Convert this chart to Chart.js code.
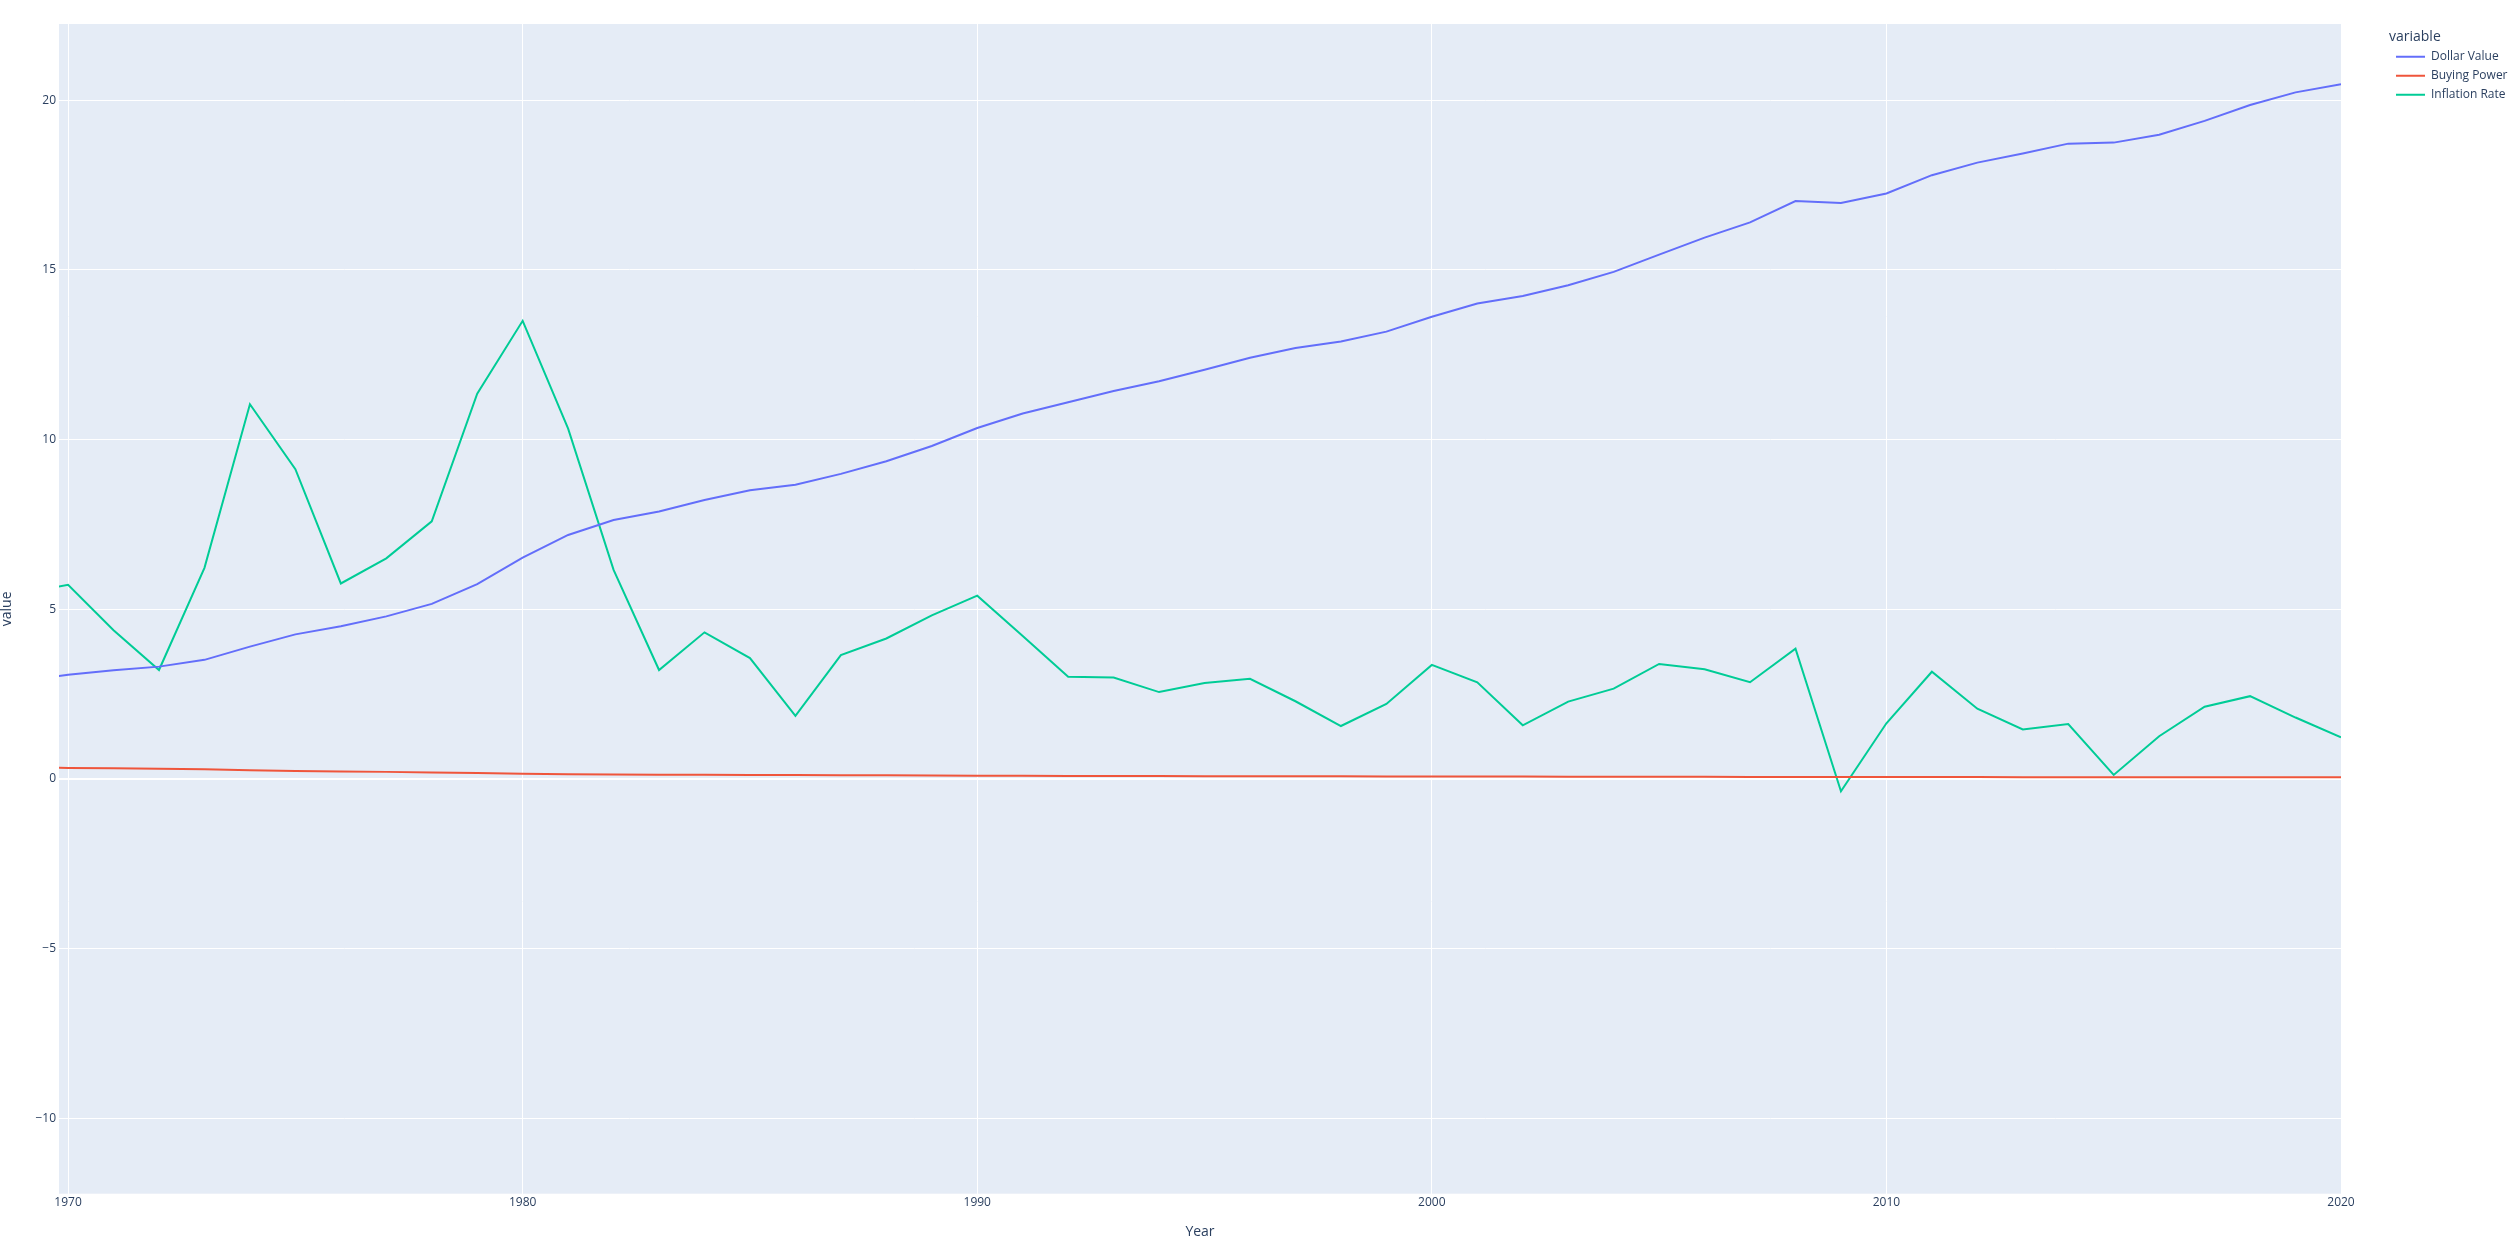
<!DOCTYPE html>
<html>
<head>
<meta charset="utf-8">
<script src="https://cdn.jsdelivr.net/npm/chart.js@4.4.1/dist/chart.umd.min.js"></script>
<style>
  html, body { margin: 0; padding: 0; background: #ffffff; }
  #wrap { width: 2509px; height: 1248px; position: relative; }
  canvas { display: block; }
</style>
</head>
<body>
<div id="wrap"><canvas id="c" width="2509" height="1248"></canvas></div>
<script>
// ---- data ----
const years = [1969,1970,1971,1972,1973,1974,1975,1976,1977,1978,1979,1980,1981,1982,1983,1984,1985,1986,1987,1988,1989,1990,1991,1992,1993,1994,1995,1996,1997,1998,1999,2000,2001,2002,2003,2004,2005,2006,2007,2008,2009,2010,2011,2012,2013,2014,2015,2016,2017,2018,2019,2020];

const dollarValue = [2.90,3.07,3.20,3.31,3.51,3.90,4.26,4.50,4.79,5.16,5.74,6.52,7.19,7.63,7.88,8.22,8.51,8.67,8.99,9.36,9.81,10.34,10.77,11.10,11.43,11.72,12.06,12.41,12.70,12.89,13.18,13.62,14.01,14.23,14.55,14.94,15.45,15.95,16.40,17.03,16.97,17.25,17.79,18.16,18.43,18.72,18.75,18.98,19.39,19.86,20.23,20.47];

const buyingPower = [0.345,0.326,0.313,0.302,0.285,0.256,0.235,0.222,0.209,0.194,0.174,0.153,0.139,0.131,0.127,0.122,0.118,0.115,0.111,0.107,0.102,0.097,0.093,0.090,0.087,0.085,0.083,0.081,0.079,0.078,0.076,0.073,0.071,0.070,0.069,0.067,0.065,0.063,0.061,0.059,0.059,0.058,0.056,0.055,0.054,0.053,0.053,0.053,0.052,0.050,0.049,0.049];

const inflationRate = [5.46,5.72,4.38,3.21,6.22,11.04,9.13,5.76,6.50,7.59,11.35,13.50,10.32,6.16,3.21,4.32,3.56,1.86,3.65,4.14,4.82,5.40,4.21,3.01,2.99,2.56,2.83,2.95,2.29,1.56,2.21,3.36,2.85,1.58,2.28,2.66,3.39,3.23,2.85,3.84,-0.36,1.64,3.16,2.07,1.46,1.62,0.12,1.26,2.13,2.44,1.81,1.23];

const seriesNames = ['Dollar Value','Buying Power','Inflation Rate'];
const xTickValues = [1970,1980,1990,2000,2010,2020];
const yTickValues = [-10,-5,0,5,10,15,20];

// ---- styling ----
const TEXT = '#2a3f5f';
const FONT = '"Open Sans", verdana, arial, sans-serif';
Chart.defaults.font.family = FONT;
Chart.defaults.color = TEXT;

function pts(vals) { return years.map((y, i) => ({ x: y, y: vals[i] })); }

const plotBg = {
  id: 'plotBg',
  beforeDraw(chart) {
    const { ctx, chartArea: a } = chart;
    ctx.save();
    ctx.fillStyle = '#ffffff';
    ctx.fillRect(0, 0, chart.width, chart.height);
    ctx.fillStyle = '#E5ECF6';
    ctx.fillRect(a.left, a.top, a.right - a.left, a.bottom - a.top);
    ctx.restore();
  }
};

const legendPlace = {
  id: 'legendPlace',
  afterInit(chart) {
    const L = chart.legend;
    if (!L) return;
    const orig = L.fit.bind(L);
    L.fit = function () { orig(); this.width = 168; };
  },
  afterLayout(chart) {
    const L = chart.legend;
    if (!L) return;
    L.left = 2389; L.right = 2509; L.width = 120;
    L.top = 29.7; L.bottom = 200; L.height = 170.3;
  }
};

new Chart(document.getElementById('c'), {
  type: 'line',
  data: {
    datasets: [
      { label: seriesNames[0], data: pts(dollarValue), borderColor: '#636efa', backgroundColor: '#636efa', borderWidth: 2 },
      { label: seriesNames[1], data: pts(buyingPower), borderColor: '#EF553B', backgroundColor: '#EF553B', borderWidth: 2 },
      { label: seriesNames[2], data: pts(inflationRate), borderColor: '#00cc96', backgroundColor: '#00cc96', borderWidth: 2 }
    ]
  },
  options: {
    responsive: false,
    animation: false,
    devicePixelRatio: 1,
    elements: {
      line: { borderWidth: 2, tension: 0, fill: false },
      point: { radius: 0, hoverRadius: 0 }
    },
    layout: { padding: { left: 0, right: 0, top: 24, bottom: 0 } },
    scales: {
      x: {
        type: 'linear',
        min: 1969.8,
        max: 2020,
        afterFit(s) { s.height = 54.3; },
        afterBuildTicks(s) { s.ticks = xTickValues.map(v => ({ value: v })); },
        ticks: {
          autoSkip: false, maxRotation: 0, minRotation: 0, padding: 2,
          color: TEXT, font: { size: 12, family: FONT },
          callback: (v) => String(v)
        },
        grid: { color: '#ffffff', lineWidth: 1, drawTicks: false },
        border: { display: false },
        title: { display: true, text: 'Year', color: TEXT, font: { size: 14, family: FONT, lineHeight: 1 }, padding: { top: 0, bottom: 9 } }
      },
      y: {
        type: 'linear',
        min: -12.22,
        max: 22.245,
        afterFit(s) { s.width = 59; },
        afterBuildTicks(s) { s.ticks = yTickValues.map(v => ({ value: v })); },
        ticks: {
          autoSkip: false, padding: 3,
          color: TEXT, font: { size: 12, family: FONT },
          callback: (v) => (v < 0 ? '\u2212' + Math.abs(v) : String(v))
        },
        grid: {
          color: '#ffffff', drawTicks: false,
          lineWidth: (ctx) => (ctx.tick && ctx.tick.value === 0 ? 2 : 1)
        },
        border: { display: false },
        title: { display: true, text: 'value', color: TEXT, font: { size: 14, family: FONT, lineHeight: 1 }, padding: { top: 0, bottom: 0 } }
      }
    },
    plugins: {
      tooltip: { enabled: false },
      legend: {
        display: true,
        position: 'right',
        align: 'start',
        title: { display: true, text: 'variable', position: 'start', color: TEXT, font: { size: 14, family: FONT, lineHeight: 1 }, padding: { top: 0, bottom: 0 } },
        labels: {
          usePointStyle: true,
          pointStyle: 'line',
          pointStyleWidth: 29,
          boxHeight: 12,
          padding: 7,
          color: TEXT,
          font: { size: 12, family: FONT },
          generateLabels(chart) {
            const items = Chart.defaults.plugins.legend.labels.generateLabels(chart);
            items.forEach(it => { it.lineWidth = 2; });
            return items;
          }
        }
      }
    }
  },
  plugins: [plotBg, legendPlace]
});
</script>
</body>
</html>
